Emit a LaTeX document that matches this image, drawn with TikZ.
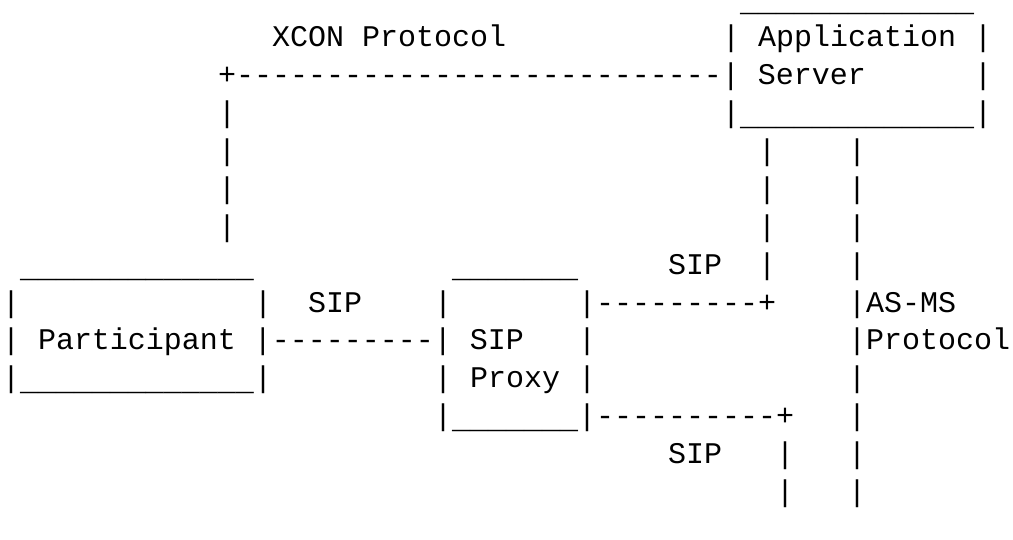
\documentclass[tikz,border=0pt]{standalone}
\usepackage{fontspec}
\setmonofont{Liberation Mono}
\ExplSyntaxOn
\cs_new:Npn \asciirep #1#2 { \prg_replicate:nn {#1} {#2} }
\ExplSyntaxOff
\begin{document}
\begin{tikzpicture}[x=1pt,y=1pt]
\useasboundingbox[fill=white] (0,0) rectangle (1013,-539);
% character grid: x = column, y = row (baselines)
\begin{scope}[shift={(2,-8.8)}, x=18pt, y=-37.9pt,
  ascii/.style={anchor=base west, inner sep=0pt, outer sep=0pt,
    font=\ttfamily\fontsize{30}{37.9}\selectfont},
  rule/.style={ascii, yshift=-3pt}]
% Application Server box
\node[rule]  (appTop)   at (41,0) {\asciirep{13}{\_}};
\node[ascii] (xcon)     at (15,1) {XCON Protocol};
\node[ascii] (appL1)    at (40,1) {| Application |};
\node[ascii] (appL2)    at (12,2) {+\asciirep{27}{-}| Server};
\node[ascii] (appL2r)   at (54,2) {|};
\node[ascii] (xconV3)   at (12,3) {|};
\node[ascii] (appBotL)  at (40,3) {|};
\node[rule]  (appBot)   at (41,3) {\asciirep{13}{\_}};
\node[ascii] (appBotR)  at (54,3) {|};
% vertical runs
\foreach \r in {4,5,6} {
  \node[ascii] (xconV\r) at (12,\r) {|};
  \node[ascii] (sipV\r)  at (42,\r) {|};
  \node[ascii] (msV\r)   at (47,\r) {|};
}
% Participant and SIP Proxy boxes
\node[rule]  (partTop)  at (1,7)  {\asciirep{13}{\_}};
\node[rule]  (proxyTop) at (25,7) {\asciirep{7}{\_}};
\node[ascii] (sipUp)    at (37,7) {SIP};
\node[ascii] (sipV7)    at (42,7) {|};
\node[ascii] (msV7)     at (47,7) {|};
\node[ascii] (partL1a)  at (0,8)  {|};
\node[ascii] (partL1b)  at (14,8) {|};
\node[ascii] (sipLeft)  at (17,8) {SIP};
\node[ascii] (proxyL1)  at (24,8) {|};
\node[ascii] (proxyL1r) at (32,8) {|\asciirep{9}{-}+};
\node[ascii] (asms)     at (47,8) {|AS-MS};
\node[ascii] (partL2)   at (0,9)  {| Participant |\asciirep{9}{-}| SIP};
\node[ascii] (proxyL2r) at (32,9) {|};
\node[ascii] (proto)    at (47,9) {|Protocol};
\node[ascii] (partBotL) at (0,10) {|};
\node[rule]  (partBot)  at (1,10) {\asciirep{13}{\_}};
\node[ascii] (partBotR) at (14,10) {|};
\node[ascii] (proxyL3)  at (24,10) {| Proxy |};
\node[ascii] (msV10)    at (47,10) {|};
\node[ascii] (proxyBotL) at (24,11) {|};
\node[rule]  (proxyBot) at (25,11) {\asciirep{7}{\_}};
\node[ascii] (proxyBotR) at (32,11) {|\asciirep{10}{-}+};
\node[ascii] (msV11)    at (47,11) {|};
\node[ascii] (sipDown)  at (37,12) {SIP};
\node[ascii] (sipD12)   at (43,12) {|};
\node[ascii] (msV12)    at (47,12) {|};
\node[ascii] (sipD13)   at (43,13) {|};
\node[ascii] (msV13)    at (47,13) {|};
\end{scope}
\end{tikzpicture}
\end{document}
